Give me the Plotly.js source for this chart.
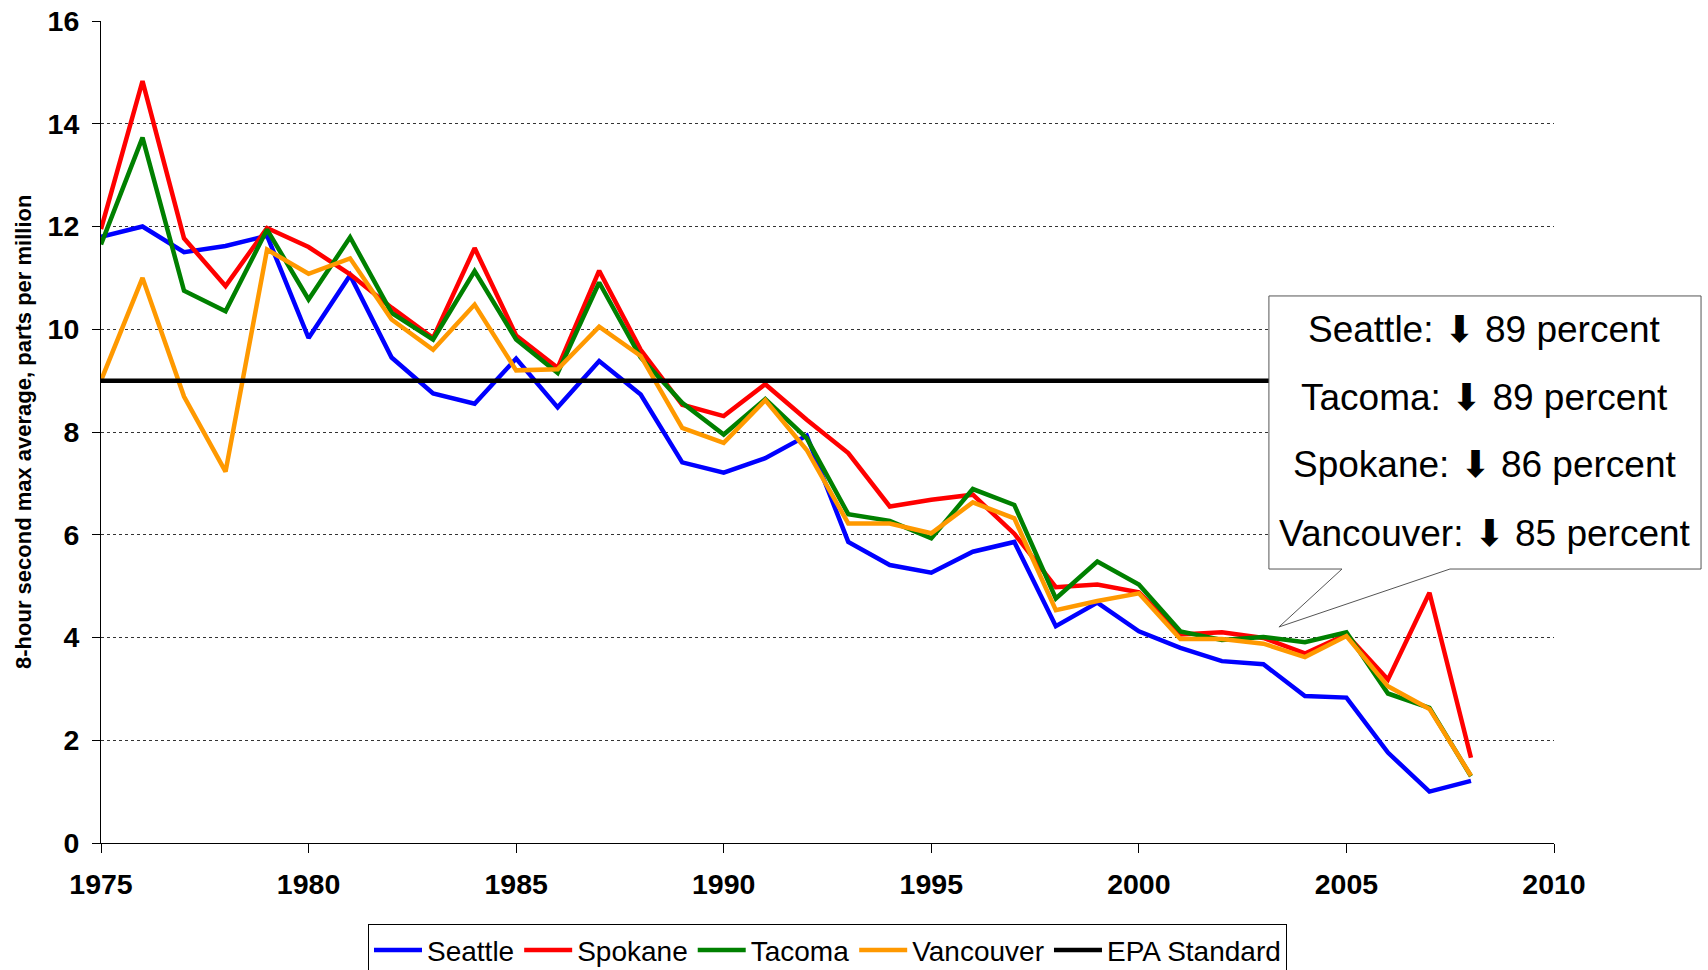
<!DOCTYPE html>
<html>
<head>
<meta charset="utf-8">
<script src="https://cdn.plot.ly/plotly-3.0.1.min.js"></script>
<style>
  html, body { margin: 0; padding: 0; background: #ffffff; }
  #chart { width: 1708px; height: 970px; }
</style>
</head>
<body>
<div id="chart"></div>
<script>
// ---- data ----
const years = [1975, 1976, 1977, 1978, 1979, 1980, 1981, 1982, 1983, 1984,
               1985, 1986, 1987, 1988, 1989, 1990, 1991, 1992, 1993, 1994,
               1995, 1996, 1997, 1998, 1999, 2000, 2001, 2002, 2003, 2004,
               2005, 2006, 2007, 2008];

const seattle = [11.8, 12.0, 11.5, 11.62, 11.82, 9.83, 11.05, 9.45, 8.75, 8.55,
                 9.43, 8.48, 9.38, 8.73, 7.41, 7.21, 7.49, 7.93, 5.86, 5.41,
                 5.26, 5.67, 5.86, 4.22, 4.68, 4.12, 3.8, 3.54, 3.48, 2.86,
                 2.83, 1.76, 1.0, 1.21];

const spokane = [11.95, 14.83, 11.77, 10.84, 11.97, 11.6, 11.07, 10.42, 9.83, 11.58,
                 9.88, 9.25, 11.14, 9.6, 8.53, 8.31, 8.93, 8.24, 7.59, 6.55,
                 6.68, 6.78, 6.02, 4.98, 5.03, 4.88, 4.06, 4.1, 3.99, 3.69,
                 4.06, 3.18, 4.87, 1.66];

const tacoma = [11.65, 13.73, 10.75, 10.35, 11.94, 10.58, 11.79, 10.32, 9.8, 11.13,
                9.8, 9.15, 10.91, 9.45, 8.57, 7.95, 8.64, 7.88, 6.4, 6.27,
                5.93, 6.89, 6.58, 4.76, 5.48, 5.03, 4.12, 3.95, 4.01, 3.91,
                4.1, 2.91, 2.63, 1.3];

const vancouver = [9.0, 11.0, 8.69, 7.23, 11.55, 11.08, 11.38, 10.19, 9.6, 10.48,
                   9.2, 9.22, 10.05, 9.48, 8.08, 7.79, 8.62, 7.65, 6.22, 6.22,
                   6.03, 6.63, 6.32, 4.53, 4.71, 4.86, 3.97, 3.97, 3.88, 3.62,
                   4.03, 3.05, 2.61, 1.31];

const epaYears = [1975, 2010];
const epaValues = [9, 9];

const seriesNames = ['Seattle', 'Spokane', 'Tacoma', 'Vancouver', 'EPA Standard'];

const calloutCities = ['Seattle', 'Tacoma', 'Spokane', 'Vancouver'];
const calloutPercent = [89, 89, 86, 85];

const xTickVals = [1975, 1980, 1985, 1990, 1995, 2000, 2005, 2010];
const yTickVals = [0, 2, 4, 6, 8, 10, 12, 14, 16];

const yTitle = '8-hour second max average, parts per million';

// ---- styling ----
const FONT = '"Liberation Sans", Arial, sans-serif';
const colors = ['#0000FF', '#FF0000', '#008000', '#FF9900', '#000000'];

const seriesData = [seattle, spokane, tacoma, vancouver];
const traces = seriesData.map((vals, i) => ({
  type: 'scatter',
  mode: 'lines',
  name: seriesNames[i],
  x: years,
  y: vals,
  line: { color: colors[i], width: 4.5 }
}));
traces.push({
  type: 'scatter',
  mode: 'lines',
  name: seriesNames[4],
  x: epaYears,
  y: epaValues,
  line: { color: colors[4], width: 4.5 }
});

// callout geometry in paper coordinates
const bx0 = 0.8038, bx1 = 1.1012, by0 = 0.3333, by1 = 0.6655;
const tl = 0.8541, tr = 0.9284, tipX = 0.8107, tipY = 0.2628;
const calloutPath = `M ${bx0} ${by1} L ${bx1} ${by1} L ${bx1} ${by0} L ${tr} ${by0} L ${tipX} ${tipY} L ${tl} ${by0} L ${bx0} ${by0} Z`;

const lineYs = [0.6241, 0.5414, 0.4599, 0.3771];
const annotations = calloutCities.map((c, i) => ({
  xref: 'paper', yref: 'paper',
  x: 0.9525, y: lineYs[i],
  xanchor: 'center', yanchor: 'middle',
  text: c + ': \u2B07 ' + calloutPercent[i] + ' percent',
  showarrow: false,
  font: { family: FONT, size: 37, color: '#000000' }
}));
annotations.push({
  xref: 'paper', yref: 'paper',
  x: -0.0537, y: 0.5,
  xanchor: 'center', yanchor: 'middle',
  textangle: -90,
  text: '<b>' + yTitle + '</b>',
  showarrow: false,
  font: { family: FONT, size: 22, color: '#000000' }
});

const layout = {
  width: 1708,
  height: 970,
  margin: { l: 101, r: 154, t: 21, b: 127, pad: 0, autoexpand: false },
  paper_bgcolor: '#ffffff',
  plot_bgcolor: '#ffffff',
  font: { family: FONT, color: '#000000' },
  showlegend: true,
  legend: {
    orientation: 'h',
    x: 0.5, xanchor: 'center',
    y: -0.099, yanchor: 'top',
    bordercolor: '#000000',
    borderwidth: 1,
    bgcolor: '#ffffff',
    font: { family: FONT, size: 28, color: '#000000' },
    itemwidth: 48,
    tracegroupgap: 0
  },
  xaxis: {
    range: [1975, 2010],
    tickmode: 'array',
    tickvals: xTickVals,
    ticktext: xTickVals.map(String),
    showgrid: false,
    zeroline: false,
    showline: true,
    linecolor: '#000000',
    linewidth: 1,
    ticks: 'outside',
    ticklen: 9,
    tickwidth: 1,
    tickcolor: '#000000',
    ticklabelstandoff: 7,
    tickfont: { family: FONT, size: 28.5, color: '#000000', weight: 'bold' }
  },
  yaxis: {
    range: [0, 16],
    tickmode: 'array',
    tickvals: yTickVals,
    ticktext: yTickVals.map(String),
    showgrid: true,
    gridcolor: '#333333',
    gridwidth: 1,
    griddash: '3px,3px',
    zeroline: false,
    showline: true,
    linecolor: '#000000',
    linewidth: 1,
    ticks: 'outside',
    ticklen: 8,
    tickwidth: 1,
    tickcolor: '#000000',
    ticklabelstandoff: 7,
    tickfont: { family: FONT, size: 28.5, color: '#000000', weight: 'bold' }
  },
  shapes: [{
    type: 'path',
    xref: 'paper', yref: 'paper',
    path: calloutPath,
    fillcolor: '#ffffff',
    line: { color: '#555555', width: 1 },
    layer: 'above'
  }],
  annotations: annotations
};

Plotly.newPlot('chart', traces, layout, { displayModeBar: false, staticPlot: true });
</script>
</body>
</html>
